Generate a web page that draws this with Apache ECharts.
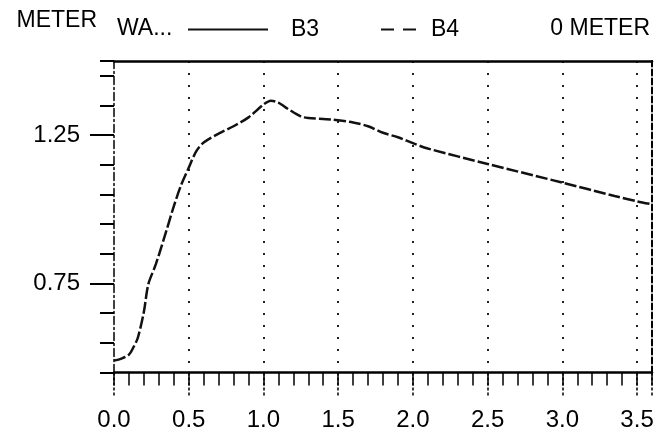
<!DOCTYPE html>
<html><head><meta charset="utf-8">
<script src="https://cdn.jsdelivr.net/npm/echarts@6/dist/echarts.min.js"></script>
<style>html,body{margin:0;padding:0;background:#fff}#c{width:660px;height:436px}</style>
</head><body><div id="c"></div>
<script>
// x positions (horizontal axis units) and B4 curve values (METER)
const xValues = [0, 0.05, 0.1, 0.13, 0.16, 0.2, 0.23, 0.28, 0.35, 0.4, 0.45, 0.5, 0.55, 0.6, 0.7, 0.8, 0.9, 1.0, 1.05, 1.1, 1.15, 1.25, 1.3, 1.45, 1.6, 1.7, 1.8, 1.9, 2.0, 2.1, 2.5, 3.0, 3.35, 3.5, 3.6];
const b4Values = [0.49, 0.497, 0.51, 0.535, 0.568, 0.655, 0.748, 0.815, 0.927, 1.01, 1.083, 1.14, 1.195, 1.225, 1.255, 1.28, 1.31, 1.353, 1.366, 1.36, 1.343, 1.313, 1.308, 1.303, 1.293, 1.28, 1.258, 1.243, 1.223, 1.205, 1.153, 1.09, 1.045, 1.027, 1.017];
const b3Values = [];
const seriesNames = ['B3', 'B4'];
const xTickLabels = [0, 0.5, 1.0, 1.5, 2.0, 2.5, 3.0, 3.5];
const yTickLabels = [0.75, 1.25];
const yAxisName = 'METER';
const headerLeft = 'WA...';
const headerRight = '0 METER';

const FONT = '"Liberation Sans", Arial, sans-serif';
const INK = '#111';
const chart = echarts.init(document.getElementById('c'), null, {renderer: 'canvas'});
const dotted = {color: '#222', width: 2, type: [2, 10]};

chart.setOption({
  backgroundColor: '#fff',
  animation: false,
  grid: {left: 114, right: 8, top: 61, bottom: 63.5, containLabel: false},
  graphic: [
    {type: 'text', left: 117, top: 17, style: {text: headerLeft, font: '23px ' + FONT, fill: '#000'}},
    {type: 'text', right: 10, top: 17, style: {text: headerRight, font: '23px ' + FONT, fill: '#000'}}
  ],
  legend: [
    {data: [seriesNames[0]], left: 187, top: 18, padding: 0, itemWidth: 80, itemHeight: 14,
     itemStyle: {opacity: 0}, lineStyle: {width: 2, type: 'solid', color: INK},
     textStyle: {fontSize: 23, fontFamily: FONT, color: '#000', padding: [0, 0, 0, 18]}},
    {data: [seriesNames[1]], left: 380, top: 18, padding: 0, itemWidth: 37, itemHeight: 14,
     itemStyle: {opacity: 0}, lineStyle: {type: [13, 9], width: 2, color: INK},
     textStyle: {fontSize: 23, fontFamily: FONT, color: '#000', padding: [0, 0, 0, 8]}}
  ],
  xAxis: [
    {type: 'value', min: 0, max: 3.6, interval: 0.5, position: 'bottom',
     axisLine: {show: true, onZero: false, lineStyle: {color: '#000', width: 2.5}},
     axisTick: {show: true, length: 23, lineStyle: {color: '#000', width: 1.5, type: [3, 2]}},
     axisLabel: {show: true, customValues: xTickLabels, margin: 36, fontSize: 24, fontFamily: FONT, color: '#000',
                 formatter: v => Number(v).toFixed(1)},
     splitLine: {show: true, showMinLine: false, showMaxLine: false, lineStyle: dotted}},
    {type: 'value', min: 0, max: 3.6, interval: 0.1, position: 'bottom',
     axisLine: {show: false, onZero: false},
     axisTick: {show: true, length: 13, lineStyle: {color: '#000', width: 1.5}},
     axisLabel: {show: false}, splitLine: {show: false}},
    {type: 'value', min: 0, max: 3.6, position: 'top',
     axisLine: {show: true, onZero: false, lineStyle: {color: '#000', width: 2.5}},
     axisTick: {show: false}, axisLabel: {show: false}, splitLine: {show: false}}
  ],
  yAxis: [
    {type: 'value', min: 0.45, max: 1.5, interval: 0.1, position: 'left',
     axisLine: {show: true, onZero: false, lineStyle: {color: '#000', width: 1.5, type: [8, 3, 2, 3]}},
     axisTick: {show: true, length: 14, lineStyle: {color: '#000', width: 2}},
     axisLabel: {show: false}, splitLine: {show: false}},
    {type: 'value', min: 0.45, max: 1.5, position: 'left',
     name: yAxisName, nameLocation: 'end', nameGap: 40,
     nameTextStyle: {fontSize: 23, fontFamily: FONT, color: '#000', align: 'right', verticalAlign: 'middle', padding: [0, 17, 0, 0]},
     axisLine: {show: false, onZero: false},
     axisTick: {show: true, length: 24, customValues: yTickLabels, lineStyle: {color: '#000', width: 2}},
     axisLabel: {show: true, customValues: yTickLabels, margin: 34, fontSize: 24, fontFamily: FONT, color: '#000',
                 formatter: v => Number(v).toFixed(2)},
     splitLine: {show: true, showMinLine: false, showMaxLine: false, lineStyle: dotted}},
    {type: 'value', min: 0.45, max: 1.5, position: 'right',
     axisLine: {show: true, onZero: false, lineStyle: {color: '#000', width: 2, type: [6, 3]}},
     axisTick: {show: false}, axisLabel: {show: false}, splitLine: {show: false}}
  ],
  series: [
    {name: seriesNames[0], type: 'line', data: b3Values, symbol: 'none',
     lineStyle: {color: INK, width: 2, type: 'solid'}, itemStyle: {color: INK}},
    {name: seriesNames[1], type: 'line', data: xValues.map((x, i) => [x, b4Values[i]]),
     symbol: 'none', smooth: 0.3, clip: true,
     lineStyle: {color: INK, width: 2.5, type: [12, 3]}, itemStyle: {color: INK}}
  ]
});
</script></body></html>
